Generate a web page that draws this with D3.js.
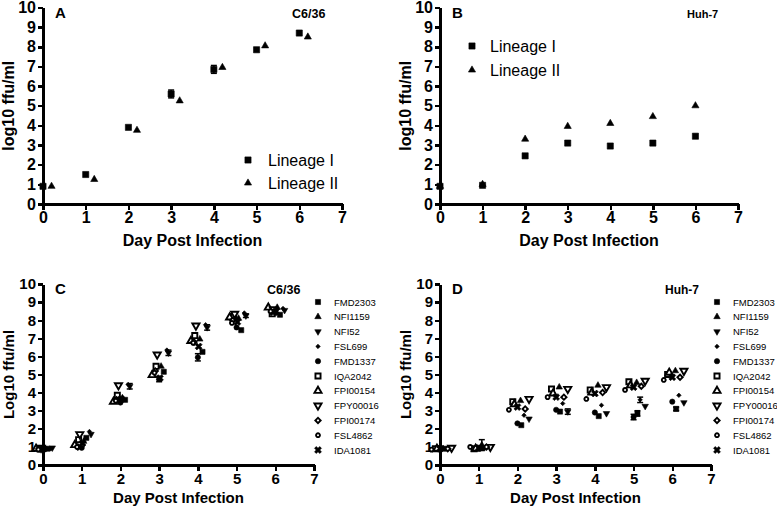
<!DOCTYPE html>
<head>
    <script src="https://d3js.org/d3.v7.min.js"></script>
    <style>
        body {margin: 0; background: #fff;}
        text {font-family: "Liberation Sans", Arial, sans-serif; fill: #000;}
        .axis path, .axis line {stroke: #000; stroke-width: 2.4; shape-rendering: crispEdges;}
        .axis text {font-weight: bold;}
    </style>
</head>
<body>
</body>
<script>
  const days = [0, 1, 2, 3, 4, 5, 6],
        xTicks = [0, 1, 2, 3, 4, 5, 6, 7],
        yTicks = [0, 1, 2, 3, 4, 5, 6, 7, 8, 9, 10];

  // panel A (C6/36) and B (Huh-7), lineage means
  const linA1 = [0.9, 1.5, 3.9, 5.6, 6.85, 7.85, 8.7],
        linA1err = [0, 0, 0, 0.2, 0.2, 0, 0],
        linA2 = [0.9, 1.25, 3.75, 5.25, 6.95, 8.05, 8.5],
        linB1 = [0.9, 0.95, 2.45, 3.1, 2.95, 3.1, 3.45],
        linB2 = [0.9, 1.0, 3.3, 3.95, 4.1, 4.45, 5.0];

  // panels C and D, strains
  const strains = ["FMD2303", "NFI1159", "NFI52", "FSL699", "FMD1337", "IQA2042",
                   "FPI00154", "FPY00016", "FPI00174", "FSL4862", "IDA1081"];

  const c6 = {
    FMD2303:  [0.9, 1.5, 3.6, 5.15, 6.25, 7.45, 8.3],
    NFI1159:  [0.9, 1.3, 3.7, 5.45, 6.95, 8.1, 8.7],
    NFI52:    [0.95, 1.7, 4.35, 6.2, 7.6, 8.25, 8.55],
    FSL699:   [0.9, 1.85, 4.45, 6.35, 7.75, 8.4, 8.65],
    FMD1337:  [0.85, 0.95, 3.45, 4.75, 5.95, 7.6, 8.4],
    IQA2042:  [0.9, 1.4, 3.85, 5.45, 7.15, 8.2, 8.35],
    FPI00154: [0.9, 1.1, 3.5, 4.97, 6.85, 8.15, 8.7],
    FPY00016: [0.95, 1.7, 4.4, 6.1, 7.7, 8.35, 8.6],
    FPI00174: [0.9, 1.0, 3.6, 5.2, 6.8, 8.0, 8.45],
    FSL4862:  [0.85, 1.0, 3.55, 5.1, 6.75, 7.85, 8.5],
    IDA1081:  [0.9, 1.2, 3.65, 4.8, 6.55, 7.9, 8.5]
  };
  const c6err = {
    FMD1337: [0, 0, 0, 0.15, 0.2, 0, 0],
    NFI52:   [0, 0, 0.15, 0.15, 0.15, 0.1, 0]
  };
  const c6offset = {FMD2303: 0.12, NFI1159: 0.05, NFI52: 0.24, FSL699: 0.2, FMD1337: 0,
                    IQA2042: -0.08, FPI00154: -0.18, FPY00016: -0.05, FPI00174: -0.1,
                    FSL4862: -0.12, IDA1081: 0.02};

  const huh = {
    FMD2303:  [0.9, 0.95, 2.2, 2.95, 2.7, 2.85, 3.1],
    NFI1159:  [0.9, 1.1, 3.55, 4.3, 4.4, 4.55, 5.2],
    NFI52:    [0.95, 1.0, 2.55, 2.95, 2.85, 3.25, 3.45],
    FSL699:   [0.9, 1.0, 2.75, 3.4, 3.3, 3.6, 3.85],
    FMD1337:  [0.85, 0.95, 2.3, 3.05, 2.9, 2.65, 3.5],
    IQA2042:  [0.9, 0.9, 3.5, 4.2, 4.15, 4.6, 5.0],
    FPI00154: [0.9, 0.9, 3.35, 3.95, 4.0, 4.4, 5.1],
    FPY00016: [0.95, 1.0, 3.65, 4.2, 4.3, 4.65, 5.2],
    FPI00174: [0.9, 1.0, 3.1, 3.75, 4.0, 4.35, 4.85],
    FSL4862:  [0.85, 1.0, 3.05, 3.75, 3.65, 4.15, 4.7],
    IDA1081:  [0.9, 0.95, 3.2, 3.75, 3.95, 4.3, 4.85]
  };
  const huhErr = {
    NFI1159: [0, 0.3, 0, 0, 0, 0, 0],
    NFI52:   [0, 0, 0, 0.15, 0, 0, 0],
    FSL699:  [0, 0, 0, 0, 0, 0.15, 0],
    FMD2303: [0, 0, 0, 0, 0, 0.15, 0.1],
    FMD1337: [0, 0, 0, 0, 0, 0.15, 0]
  };
  const huhOffset = {FMD2303: 0.1, NFI1159: 0.08, NFI52: 0.3, FSL699: 0.17, FMD1337: 0,
                     IQA2042: -0.12, FPI00154: -0.08, FPY00016: 0.3, FPI00174: 0.2,
                     FSL4862: -0.22, IDA1081: 0};

  // marker style per strain
  const marks = {
    FMD2303:  {type: d3.symbolSquare, size: 26, open: false},
    NFI1159:  {type: d3.symbolTriangle, size: 18, open: false},
    NFI52:    {type: d3.symbolTriangle, size: 18, open: false, rot: 180},
    FSL699:   {type: d3.symbolSquare, size: 10, open: false, rot: 45},
    FMD1337:  {type: d3.symbolCircle, size: 22, open: false},
    IQA2042:  {type: d3.symbolSquare, size: 26, open: true},
    FPI00154: {type: d3.symbolTriangle, size: 22, open: true},
    FPY00016: {type: d3.symbolTriangle, size: 22, open: true, rot: 180},
    FPI00174: {type: d3.symbolSquare, size: 14, open: true, rot: 45},
    FSL4862:  {type: d3.symbolCircle, size: 12, open: true},
    IDA1081:  {type: d3.symbolCross, size: 30, open: false, rot: 45}
  };

  const svg = d3.select("body").append("svg")
      .attr("width", 777)
      .attr("height", 506);

  function drawMark(g, m, cx, cy) {
    g.append("path")
      .attr("d", d3.symbol().type(m.type).size(m.size)())
      .attr("transform", `translate(${cx},${cy}) rotate(${m.rot || 0})`)
      .attr("fill", m.open ? "#fff" : "#000")
      .attr("stroke", "#000")
      .attr("stroke-width", m.open ? 1.9 : 0.6);
  }

  function drawErr(g, cx, y0, y1) {
    g.append("line").attr("x1", cx).attr("x2", cx).attr("y1", y0).attr("y2", y1)
      .attr("stroke", "#000").attr("stroke-width", 1.5);
    [y0, y1].forEach(yy => g.append("line")
      .attr("x1", cx - 3).attr("x2", cx + 3).attr("y1", yy).attr("y2", yy)
      .attr("stroke", "#000").attr("stroke-width", 1.5));
  }

  function panel(p) {
    const x = d3.scaleLinear().domain([0, 7]).range([p.x0, p.x1]);
    const y = d3.scaleLinear().domain([0, 10]).range([p.y0, p.y1]);
    const g = svg.append("g");

    g.append("g").attr("class", "axis")
      .attr("transform", `translate(${p.x0},0)`)
      .call(d3.axisLeft(y).tickValues(yTicks).tickFormat(d3.format("d"))
        .tickSize(5).tickSizeOuter(0).tickPadding(2))
      .selectAll("text").style("font-size", p.tickFont + "px");
    g.append("g").attr("class", "axis")
      .attr("transform", `translate(0,${p.y0})`)
      .call(d3.axisBottom(x).tickValues(xTicks).tickFormat(d3.format("d"))
        .tickSize(6).tickSizeOuter(0).tickPadding(2))
      .selectAll("text").style("font-size", p.tickFont + "px");

    g.append("text")
      .attr("transform", `translate(${p.ytx},${(p.y0 + p.y1) / 2}) rotate(-90)`)
      .attr("text-anchor", "middle")
      .style("font-size", p.titleFont + "px").style("font-weight", "bold")
      .text(p.ytitle);
    g.append("text")
      .attr("x", (p.x0 + p.x1) / 2).attr("y", p.xty)
      .attr("text-anchor", "middle")
      .style("font-size", p.titleFont + "px").style("font-weight", "bold")
      .text("Day Post Infection");

    g.append("text").attr("x", p.x0 + 12).attr("y", p.y1 + 10)
      .style("font-size", "15px").style("font-weight", "bold").text(p.letter);
    g.append("text").attr("x", p.cellX).attr("y", p.y1 + 10)
      .style("font-size", p.cellFont + "px").style("font-weight", "bold").text(p.cell);
    return {g, x, y};
  }

  // ---- A and B ----
  const sq = {type: d3.symbolSquare, size: 38, open: false},
        tri = {type: d3.symbolTriangle, size: 22, open: false};

  const pA = panel({x0: 43, x1: 342, y0: 204, y1: 7.5, tickFont: 16, titleFont: 16,
                    ytitle: "log10 ffu/ml", ytx: 14, xty: 246, letter: "A",
                    cell: "C6/36", cellX: 292, cellFont: 12.5});
  days.forEach((d, i) => {
    if (linA1err[i]) drawErr(pA.g, pA.x(d), pA.y(linA1[i] - linA1err[i]), pA.y(linA1[i] + linA1err[i]));
    drawMark(pA.g, sq, pA.x(d), pA.y(linA1[i]));
    drawMark(pA.g, tri, pA.x(d + 0.2), pA.y(linA2[i]));
  });
  drawMark(pA.g, sq, 248, 160);
  drawMark(pA.g, tri, 248, 183);
  pA.g.append("text").attr("x", 268).attr("y", 166).style("font-size", "16px").text("Lineage I");
  pA.g.append("text").attr("x", 268).attr("y", 189).style("font-size", "16px").text("Lineage II");

  const pB = panel({x0: 440, x1: 738, y0: 204, y1: 7.5, tickFont: 16, titleFont: 16,
                    ytitle: "log10 ffu/ml", ytx: 411, xty: 246, letter: "B",
                    cell: "Huh-7", cellX: 687, cellFont: 11});
  days.forEach((d, i) => {
    drawMark(pB.g, tri, pB.x(d), pB.y(linB2[i]));
    drawMark(pB.g, sq, pB.x(d), pB.y(linB1[i]));
  });
  drawMark(pB.g, sq, 472, 46);
  drawMark(pB.g, tri, 472, 70);
  pB.g.append("text").attr("x", 490).attr("y", 52).style("font-size", "16px").text("Lineage I");
  pB.g.append("text").attr("x", 490).attr("y", 76).style("font-size", "16px").text("Lineage II");

  // ---- C and D ----
  function strainPanel(p, vals, errs, offs, legX) {
    const P = panel(p);
    strains.forEach(s => {
      days.forEach((d, i) => {
        const e = errs[s] ? errs[s][i] : 0;
        const cx = P.x(d + offs[s]);
        if (e) drawErr(P.g, cx, P.y(vals[s][i] - e), P.y(vals[s][i] + e));
        drawMark(P.g, marks[s], cx, P.y(vals[s][i]));
      });
    });
    strains.forEach((s, k) => {
      const ly = 302 + k * 14.8;
      drawMark(P.g, marks[s], legX, ly);
      P.g.append("text").attr("x", legX + 16).attr("y", ly + 3.5)
        .style("font-size", "9.5px").text(s);
    });
  }

  strainPanel({x0: 43, x1: 314, y0: 465, y1: 284, tickFont: 15, titleFont: 15,
               ytitle: "Log10 ffu/ml", ytx: 14, xty: 503, letter: "C",
               cell: "C6/36", cellX: 267, cellFont: 12.5}, c6, c6err, c6offset, 318);
  strainPanel({x0: 440, x1: 711, y0: 465, y1: 284, tickFont: 15, titleFont: 15,
               ytitle: "Log10 ffu/ml", ytx: 411, xty: 503, letter: "D",
               cell: "Huh-7", cellX: 665, cellFont: 12}, huh, huhErr, huhOffset, 717);
</script>
